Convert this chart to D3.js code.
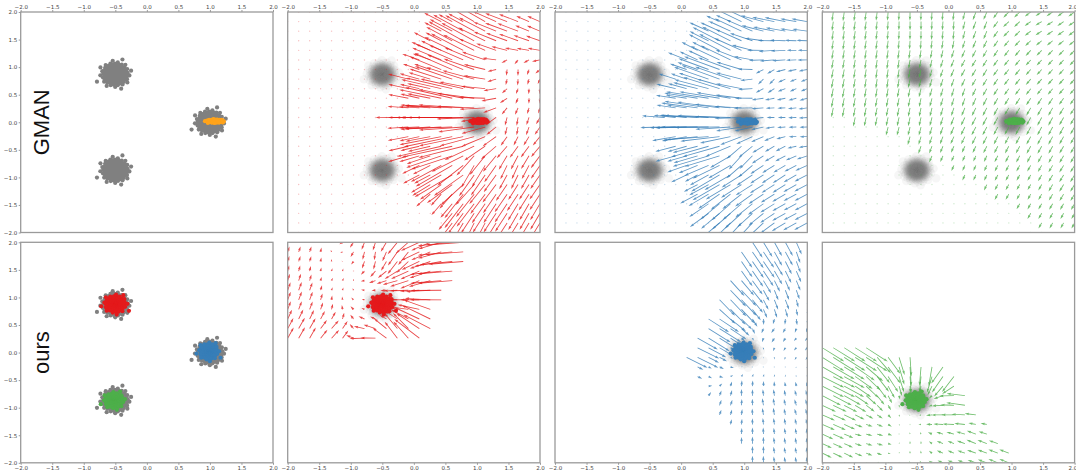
<!DOCTYPE html>
<html><head><meta charset="utf-8">
<script src="https://cdn.jsdelivr.net/npm/d3@7"></script>
<style>body{margin:0;background:#fff}svg{display:block}</style>
</head><body>
<svg id="chart" width="1076" height="476"></svg>
<script>
// ---- data ----
const tickValues = [-2.0, -1.5, -1.0, -0.5, 0.0, 0.5, 1.0, 1.5, 2.0];
const rowLabels = ["GMAN", "ours"];
// the three target modes: [cx, cy]
const modeCenters = [[-0.5, 0.87], [1.0, 0.0], [-0.5, -0.87]];
const modeSpread = 0.09;
const modeCount = 280;
const palette = { red: "#e41a1c", blue: "#377eb8", green: "#4daf4a", orange: "#ffa31a" };

// generator samples: [cx, cy, sx, sy, n, colour]
const gmanSamples = [
  [1.08, 0.02, 0.055, 0.012, 220, "orange"],
  [1.04, 0.02, 0.05, 0.014, 220, "red"],
  [1.06, 0.01, 0.055, 0.014, 220, "blue"],
  [1.06, 0.02, 0.05, 0.014, 220, "green"]
];
const oursSamples = [
  [-0.5, 0.88, 0.075, 0.07, 150, "red"],
  [0.98, 0.02, 0.065, 0.065, 150, "blue"],
  [-0.52, -0.87, 0.065, 0.06, 170, "green"]
];

// vector fields: anchor arrows [x, y, u, v] and the region where arrows are drawn
const fieldGmanRed = [
  [0.6, 0.09, -0.8, 0.0], [0.1, 0.09, -0.3, 0.0],
  [0.6, 0.5, -0.75, 0.2], [0.1, 0.5, -0.3, 0.08],
  [0.6, 1.0, -0.6, 0.3], [0.2, 1.0, -0.25, 0.1],
  [0.8, 1.5, -0.55, 0.35], [0.4, 1.5, -0.25, 0.15],
  [1.0, 1.9, -0.45, 0.3], [0.7, 1.9, -0.2, 0.12],
  [0.6, -0.4, -0.8, -0.2], [0.1, -0.4, -0.3, -0.08],
  [0.6, -0.9, -0.6, -0.4], [0.2, -0.9, -0.25, -0.15],
  [0.8, -1.4, -0.3, -0.45], [0.5, -1.4, -0.15, -0.2],
  [1.0, -1.9, -0.15, -0.35], [1.0, -0.8, -0.2, -0.4],
  [1.5, 1.7, -0.35, 0.15], [1.9, 1.8, -0.2, 0.1],
  [1.6, 0.9, 0.0, -0.12], [1.9, 0.5, 0.0, -0.1],
  [1.6, 0.0, -0.02, -0.15], [1.6, -0.8, -0.1, -0.25],
  [1.8, -1.6, -0.15, -0.3], [1.3, -1.5, -0.2, -0.35]
];
const maskGmanRed = [[0.55, 2.1], [0.2, 1.5], [-0.05, 1.0], [-0.2, 0.5], [-0.28, 0.0], [-0.15, -0.5],
  [0.05, -1.0], [0.35, -1.5], [0.75, -2.1], [2.1, -2.1], [2.1, 2.1]];

const fieldGmanBlue = [
  [0.45, -0.09, -0.75, 0.0], [0.45, 0.3, -0.7, 0.12], [0.0, 0.3, -0.3, 0.05],
  [0.6, 0.8, -0.6, 0.25], [0.1, 0.8, -0.25, 0.1],
  [0.7, 1.3, -0.5, 0.3], [0.35, 1.3, -0.25, 0.15],
  [1.0, 1.8, -0.45, 0.25], [0.7, 1.9, -0.2, 0.1],
  [1.5, 1.8, -0.35, 0.08], [1.9, 1.9, -0.25, 0.05], [1.5, 1.3, -0.25, -0.02], [1.9, 1.3, -0.15, 0.0],
  [1.4, 0.8, -0.08, -0.1], [1.9, 0.7, -0.1, -0.05], [1.6, 0.1, -0.12, 0.0], [1.9, -0.2, -0.12, 0.0],
  [0.5, -0.5, -0.6, -0.2], [0.1, -0.5, -0.3, -0.1], [0.6, -1.0, -0.45, -0.3], [0.3, -1.0, -0.2, -0.12],
  [0.8, -1.5, -0.3, -0.3], [1.0, -0.6, -0.2, -0.25], [1.0, -1.9, -0.2, -0.25],
  [1.5, -1.0, -0.2, -0.15], [1.9, -1.5, -0.2, -0.12], [1.5, -0.5, -0.15, -0.1]
];
const maskGmanBlue = [[0.6, 2.1], [0.3, 1.5], [0.0, 1.0], [-0.2, 0.5], [-0.3, 0.0], [-0.2, -0.5],
  [0.05, -1.0], [0.3, -1.5], [0.7, -2.1], [2.1, -2.1], [2.1, 2.1]];

const fieldGmanGreen = [
  [-1.8, 1.8, -0.02, -0.17], [-1.8, 0.5, -0.03, -0.17], [-1.0, 1.0, -0.02, -0.17],
  [-0.5, 1.8, 0.0, -0.16], [0.0, 1.8, -0.01, -0.16], [0.5, 1.8, -0.05, -0.15],
  [1.0, 1.8, -0.09, -0.1], [1.5, 1.8, -0.1, -0.07], [1.9, 1.8, -0.1, -0.08],
  [1.9, 1.0, -0.08, -0.1], [1.5, 1.0, -0.08, -0.1], [1.0, 1.0, -0.08, -0.11],
  [0.5, 1.0, -0.07, -0.13], [0.0, 0.5, -0.04, -0.15], [-0.5, 0.3, -0.03, -0.16],
  [0.5, 0.0, -0.07, -0.15], [1.5, 0.0, -0.07, -0.15], [1.9, -1.0, -0.07, -0.13],
  [1.2, -1.2, -0.05, -0.1], [0.3, -0.8, -0.04, -0.1], [1.9, -1.9, -0.05, -0.1]
];
const maskGmanGreen = [[-2.1, 0.3], [-1.0, -0.1], [0.0, -0.8], [0.5, -1.15], [1.0, -1.5], [1.5, -1.95],
  [1.6, -2.1], [2.1, -2.1], [2.1, 2.1], [-2.1, 2.1]];

const fieldOursRed = [
  [-0.5, 0.87, 0.0, 0.0],
  [0.8, 1.9, -0.6, -0.05], [0.2, 1.9, -0.3, -0.15],
  [0.6, 1.4, -0.55, -0.05], [0.1, 1.4, -0.3, -0.15],
  [0.5, 1.0, -0.5, 0.0], [0.0, 1.0, -0.3, 0.0],
  [0.1, 0.2, -0.4, 0.35], [0.3, 0.6, -0.45, 0.25], [-0.2, 0.3, -0.2, 0.3],
  [-0.2, 1.8, -0.15, -0.25], [-0.6, 1.8, -0.02, -0.15],
  [-1.8, 1.8, 0.03, 0.1], [-1.8, 1.0, 0.05, 0.15], [-1.8, 0.3, 0.1, 0.2],
  [-1.3, 0.3, 0.12, 0.15], [-1.2, 1.3, 0.02, 0.05], [-0.7, 0.13, -0.25, -0.02]
];
const maskOursRed = [[-2.1, 2.1], [1.0, 2.1], [0.55, 1.1], [0.35, 0.6], [0.1, 0.1], [-2.1, 0.1]];

const fieldOursBlue = [
  [1.0, 0.0, 0.0, 0.0],
  [0.2, 0.0, 0.35, -0.2], [0.5, 0.4, 0.35, -0.25], [0.8, 1.0, 0.25, -0.3],
  [1.2, 1.7, 0.18, -0.3], [1.6, 1.9, 0.12, -0.25], [1.9, 1.8, 0.06, -0.2],
  [1.6, 1.0, 0.06, -0.18], [1.9, 0.8, 0.02, -0.12], [1.5, 0.4, -0.05, -0.08], [1.9, 0.2, -0.04, -0.05],
  [0.4, -0.3, 0.05, -0.03],
  [1.0, -0.8, 0.0, 0.12], [1.4, -1.0, -0.02, 0.13], [1.9, -1.0, -0.03, 0.11],
  [1.2, -1.8, 0.0, 0.13], [1.7, -1.8, -0.02, 0.11], [0.7, -0.9, 0.03, 0.1]
];
const maskOursBlue = [[1.05, 2.1], [0.6, 1.0], [0.05, -0.15], [0.3, -0.6], [0.7, -1.3], [1.1, -2.1],
  [2.1, -2.1], [2.1, 2.1]];

const fieldOursGreen = [
  [-0.5, -0.87, 0.0, 0.0],
  [-1.9, 0.0, 0.35, -0.25], [-1.4, 0.0, 0.35, -0.25], [-1.9, -0.5, 0.35, -0.2], [-1.0, -0.2, 0.2, -0.3],
  [-0.6, -0.2, 0.02, -0.35], [-0.3, -0.2, -0.05, -0.35], [0.0, -0.3, -0.2, -0.3],
  [0.3, -0.9, -0.3, 0.05], [0.1, -1.1, -0.2, 0.0], [0.6, -1.3, -0.1, 0.02],
  [-1.9, -1.2, 0.2, -0.1], [-1.9, -1.8, 0.15, -0.08], [-1.3, -1.5, 0.1, -0.03],
  [0.5, -1.6, -0.15, 0.07], [0.9, -1.9, -0.15, 0.07], [0.0, -1.7, -0.1, 0.05], [-0.5, -1.7, 0.0, 0.05]
];
const maskOursGreen = [[-2.1, 0.15], [-1.2, 0.1], [-0.6, -0.05], [0.1, -0.3], [0.3, -0.9], [0.65, -1.3],
  [1.0, -1.8], [1.0, -2.1], [-2.1, -2.1]];

// ---- layout ----
const svg = d3.select("#chart");
const panelLeft = [20.7, 287.7, 555, 822.3];
const panelTop = [12, 242.3];
const pw = 252.3, ph = 220.5;
const gridN = 24;
const gridVals = d3.range(gridN).map(i => -2 + 4 * i / (gridN - 1));

const x = d3.scaleLinear().domain([-2, 2]).range([0, pw]);
const y = d3.scaleLinear().domain([-2, 2]).range([ph, 0]);
const fmt = d3.format(".1f");

// quasi-gaussian cloud laid out on a golden-angle spiral
function cloud(cx, cy, sx, sy, n) {
  const pts = [];
  const ga = Math.PI * (3 - Math.sqrt(5));
  for (let i = 0; i < n; i++) {
    const r = Math.sqrt(-2 * Math.log(1 - (i + 0.5) / n));
    const a = i * ga;
    pts.push([cx + sx * r * Math.cos(a), cy + sy * r * Math.sin(a)]);
  }
  return pts;
}

// inverse-distance blend of the anchor arrows
function interpField(anchors, px, py) {
  let su = 0, sv = 0, sw = 0;
  for (const [ax, ay, u, v] of anchors) {
    const d2 = (px - ax) ** 2 + (py - ay) ** 2;
    if (d2 < 1e-9) return [u, v];
    const w = 1 / Math.pow(d2, 1.5);
    su += w * u; sv += w * v; sw += w;
  }
  return [su / sw, sv / sw];
}

// quiver-style arrow polygon in pixel space
function arrowPath(x0, y0, x1, y1, w) {
  const dx = x1 - x0, dy = y1 - y0;
  const L = Math.hypot(dx, dy);
  const ux = dx / L, uy = dy / L, nx = -uy, ny = ux;
  let hl = 5 * w, hal = 4.5 * w, hw = 3 * w, sw = w;
  if (L < hl) { const s = L / hl; hl *= s; hal *= s; hw *= s; sw *= Math.max(s, 0.6); }
  const P = (t, o) => [x0 + ux * t + nx * o, y0 + uy * t + ny * o];
  const pts = [P(0, sw / 2), P(L - hal, sw / 2), P(L - hl, hw / 2), P(L, 0),
               P(L - hl, -hw / 2), P(L - hal, -sw / 2), P(0, -sw / 2)];
  return "M" + pts.map(p => p[0].toFixed(2) + "," + p[1].toFixed(2)).join("L") + "Z";
}

const panels = [
  { row: 0, col: 0, kind: "modes", gen: gmanSamples[0] },
  { row: 0, col: 1, kind: "field", gen: gmanSamples[1], field: fieldGmanRed, mask: maskGmanRed, modes: [0, 1, 2], dots: true },
  { row: 0, col: 2, kind: "field", gen: gmanSamples[2], field: fieldGmanBlue, mask: maskGmanBlue, modes: [0, 1, 2], dots: true },
  { row: 0, col: 3, kind: "field", gen: gmanSamples[3], field: fieldGmanGreen, mask: maskGmanGreen, modes: [0, 1, 2], dots: true },
  { row: 1, col: 0, kind: "modes", gens: oursSamples },
  { row: 1, col: 1, kind: "field", gen: oursSamples[0], field: fieldOursRed, mask: maskOursRed, modes: [0], dots: false },
  { row: 1, col: 2, kind: "field", gen: oursSamples[1], field: fieldOursBlue, mask: maskOursBlue, modes: [1], dots: false },
  { row: 1, col: 3, kind: "field", gen: oursSamples[2], field: fieldOursGreen, mask: maskOursGreen, modes: [2], dots: false }
];

const defs = svg.append("defs");

panels.forEach((p, idx) => {
  const g = svg.append("g").attr("transform", `translate(${panelLeft[p.col]},${panelTop[p.row]})`);
  const clipId = "clip" + idx;
  defs.append("clipPath").attr("id", clipId).append("rect").attr("width", pw).attr("height", ph);
  const body = g.append("g").attr("clip-path", `url(#${clipId})`);

  if (p.kind === "modes") {
    modeCenters.forEach(([cx, cy]) => {
      body.append("g").selectAll("circle").data(cloud(cx, cy, modeSpread, modeSpread, modeCount)).join("circle")
        .attr("cx", d => x(d[0])).attr("cy", d => y(d[1])).attr("r", 2.1).attr("fill", "#808080");
    });
    const gens = p.gens || [p.gen];
    gens.forEach(([cx, cy, sx, sy, n, c]) => {
      body.append("g").selectAll("circle").data(cloud(cx, cy, sx, sy, n)).join("circle")
        .attr("cx", d => x(d[0])).attr("cy", d => y(d[1])).attr("r", 2.1).attr("fill", palette[c]);
    });
  } else {
    // faded target modes
    p.modes.forEach(m => {
      const [cx, cy] = modeCenters[m];
      body.append("g").selectAll("circle").data(cloud(cx, cy, 0.095, 0.095, 260)).join("circle")
        .attr("cx", d => x(d[0])).attr("cy", d => y(d[1])).attr("r", 4.3).attr("fill", "#808080").attr("fill-opacity", 0.07);
    });
    const col = palette[p.gen[5]];
    const arrows = [], dots = [];
    gridVals.forEach(gy => gridVals.forEach(gx => {
      const inside = d3.polygonContains(p.mask, [gx, gy]);
      if (!inside) { if (p.dots) dots.push([gx, gy]); return; }
      const [u, v] = interpField(p.field, gx, gy);
      const x0 = x(gx), y0 = y(gy), x1 = x(gx + u), y1 = y(gy + v);
      if (Math.hypot(x1 - x0, y1 - y0) < 1.2) dots.push([gx, gy]);
      else arrows.push([x0, y0, x1, y1]);
    }));
    body.append("g").selectAll("circle").data(dots).join("circle")
      .attr("cx", d => x(d[0])).attr("cy", d => y(d[1])).attr("r", 0.7)
      .attr("fill", col).attr("fill-opacity", 0.28);
    body.append("g").selectAll("path").data(arrows).join("path")
      .attr("d", d => arrowPath(d[0], d[1], d[2], d[3], 0.85))
      .attr("fill", col).attr("fill-opacity", 0.8);
    const [cx, cy, sx, sy, n, c] = p.gen;
    body.append("g").selectAll("circle").data(cloud(cx, cy, sx, sy, n)).join("circle")
      .attr("cx", d => x(d[0])).attr("cy", d => y(d[1])).attr("r", 2.1).attr("fill", col);
  }

  // frame
  g.append("rect").attr("width", pw).attr("height", ph)
    .attr("fill", "none").attr("stroke", "#9a9a9a").attr("stroke-width", 1.3);

  // axes
  const xAxis = (p.row === 0 ? d3.axisTop(x) : d3.axisBottom(x))
    .tickValues(tickValues).tickFormat(fmt).tickSize(2).tickPadding(1.5);
  const xa = g.append("g").attr("transform", p.row === 0 ? "translate(0,0)" : `translate(0,${ph})`).call(xAxis);
  if (p.col === 0) {
    const ya = g.append("g").call(d3.axisLeft(y).tickValues(tickValues).tickFormat(fmt).tickSize(2).tickPadding(1.5));
    ya.select(".domain").remove();
    ya.selectAll("text").attr("font-size", 5.5);
  }
  xa.select(".domain").remove();
  xa.selectAll("text").attr("font-size", 5.5);
  if (p.col === 3) {
    // keep the last label inside the page edge
    xa.selectAll(".tick").filter(d => d === 2).select("text").attr("text-anchor", "end").attr("dx", "0.4em");
  }
  g.selectAll(".tick line").attr("stroke", "#9a9a9a");
  g.selectAll(".tick text").attr("fill", "#444").attr("font-family", "DejaVu Sans, sans-serif");
});

// row titles
rowLabels.forEach((t, i) => {
  svg.append("text")
    .attr("transform", `translate(${49},${panelTop[i] + ph / 2}) rotate(-90)`)
    .attr("text-anchor", "middle")
    .attr("font-family", "Liberation Sans, Arial, sans-serif")
    .attr("font-size", 22)
    .attr("fill", "#111")
    .text(t);
});
</script>
</body></html>
